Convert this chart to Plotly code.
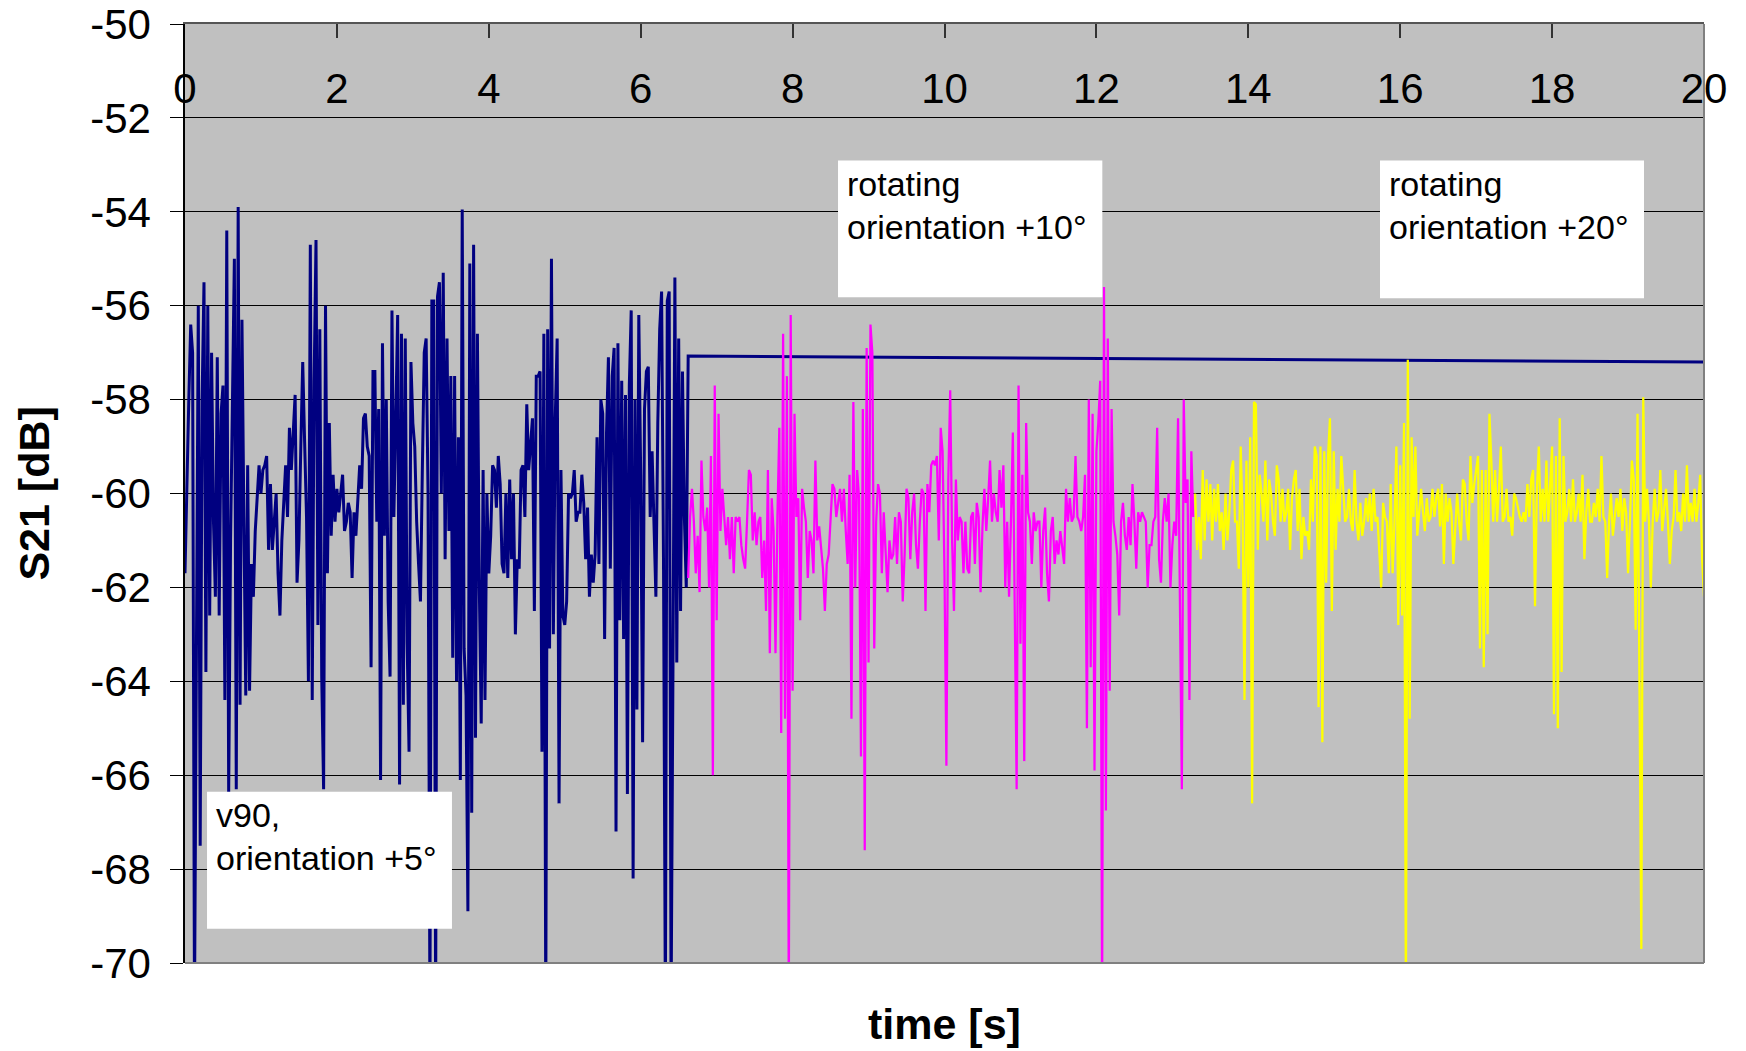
import plotly.graph_objects as go

# ---- measurement data: S21 [dB], sampled every DT seconds ----
DT = 0.025

# v90, orientation +5°  (t = 0 ... 6.6 s)
navy_t0 = 0.0
navy_vals = [
    -61.7, -59.4, -58.0, -56.4, -57.0, -71.0, -62.0, -56.0, -67.5, -58.0,
    -55.5, -63.8, -56.0, -62.6, -57.0, -60.6, -62.2, -57.1, -62.6, -58.3,
    -57.7, -64.4, -54.4, -66.4, -61.0, -57.9, -55.0, -66.3, -53.9, -64.5,
    -56.3, -60.5, -64.3, -59.4, -64.2, -61.5, -62.2, -60.8, -60.0, -59.4,
    -60.0, -59.5, -59.4, -59.2, -61.2, -59.8, -61.2, -60.5, -60.0, -61.7,
    -62.6, -61.0, -60.2, -59.4, -60.5, -58.6, -59.5, -58.7, -57.9, -61.9,
    -61.0, -59.0, -57.2, -58.9, -60.5, -64.0, -54.7, -64.4, -57.6, -54.6,
    -62.8, -56.5, -63.9, -66.3, -56.0, -61.7, -58.5, -60.9, -59.6, -60.6,
    -59.9, -60.4, -60.0, -59.6, -60.8, -60.6, -60.2, -60.4, -61.8, -60.4,
    -60.9, -60.0, -59.4, -59.9, -58.4, -58.3, -59.0, -59.2, -63.7, -57.4,
    -57.4, -60.6, -58.2, -66.1, -56.8, -60.9, -58.0, -62.3, -63.9, -56.1,
    -60.5, -58.4, -56.2, -66.2, -56.6, -64.5, -56.7, -63.2, -65.5, -57.2,
    -58.5, -59.0, -60.6, -61.5, -62.3, -59.5, -57.0, -56.7, -60.0, -71.0,
    -55.9, -55.9, -71.0, -55.8, -55.5, -60.0, -55.3, -61.4, -56.7, -60.8,
    -57.5, -63.5, -57.5, -64.0, -58.8, -66.1, -53.95, -63.3, -64.3, -68.9,
    -55.1, -66.8, -54.7, -65.2, -56.6, -62.0, -64.9, -59.5, -64.4, -60.0,
    -61.7, -60.9, -59.4, -59.5, -60.3, -59.2, -59.8, -61.5, -61.7, -60.0,
    -61.8, -59.7, -61.4, -60.0, -63.0, -61.4, -61.6, -59.5, -59.4, -60.5,
    -58.1, -59.5, -58.9, -58.4, -62.5, -57.5, -57.5, -57.4, -65.5, -56.6,
    -71.0, -56.5, -63.3, -55.0, -63.0, -58.4, -56.7, -66.6, -59.5, -62.6,
    -62.8, -62.3, -60.0, -60.1, -60.0, -59.5, -60.6, -60.4, -60.4, -59.6,
    -60.2, -61.4, -60.3, -62.2, -61.3, -61.9, -61.3, -58.8, -61.5, -58.0,
    -58.3, -63.1, -58.7, -57.1, -61.6, -57.5, -56.9, -67.2, -56.8, -62.7,
    -57.6, -63.1, -57.9, -66.4, -57.7, -56.1, -68.2, -58.0, -64.6, -56.2,
    -59.6, -65.3, -58.2, -57.4, -57.3, -60.5, -59.1, -60.6, -62.2, -58.5,
    -56.5, -55.7, -61.4, -71.0, -55.9, -55.7, -71.0, -63.7, -55.4, -63.6,
    -56.7, -62.5, -57.4, -60.5, -62.0,
]
# closing segment of the same series
navy_tail_t = [6.625, 20.0]
navy_tail_vals = [-57.07, -57.2]

# rotating, orientation +10°  (t = 6.625 ... 13.275 s)
magenta_t0 = 6.625
magenta_vals = [
    -61.8, -60.5, -59.9, -60.6, -61.7, -60.9, -62.1, -59.3, -60.5, -60.8,
    -60.3, -62.0, -59.2, -66.0, -57.7, -62.7, -58.3, -60.8, -59.9, -60.6,
    -61.1, -60.5, -61.4, -60.5, -61.7, -60.5, -60.6, -60.5, -61.1, -61.4,
    -61.6, -60.6, -59.5, -59.6, -61.0, -60.4, -61.1, -60.6, -60.5, -61.8,
    -61.0, -62.5, -59.5, -63.4, -60.1, -60.8, -63.4, -60.5, -58.6, -65.1,
    -56.6, -64.8, -57.5, -71.0, -56.2, -64.2, -58.3, -60.5, -60.1, -62.7,
    -59.9, -60.3, -60.6, -61.8, -60.8, -61.0, -61.7, -59.3, -61.0, -60.7,
    -61.2, -61.6, -62.5, -61.5, -61.3, -60.6, -59.8, -59.9, -60.5, -60.2,
    -59.9, -60.6, -59.9, -60.8, -61.5, -59.6, -64.8, -58.05, -62.0, -59.5,
    -60.1, -65.6, -58.2, -67.6, -56.9, -63.6, -56.4, -57.0, -63.3, -60.6,
    -59.8, -60.0, -61.7, -60.4, -61.3, -62.1, -61.0, -61.4, -61.3, -60.5,
    -61.5, -60.4, -60.6, -62.3, -61.3, -59.9, -60.1, -61.4, -60.4, -60.0,
    -61.1, -61.6, -60.6, -59.9, -60.0, -62.5, -59.8, -60.4, -59.4, -59.3,
    -59.4, -59.2, -61.0, -58.6, -59.1, -61.7, -65.8, -59.7, -57.8, -61.0,
    -62.5, -59.7, -61.0, -60.5, -60.6, -61.7, -60.6, -61.6, -61.7, -60.5,
    -60.4, -61.5, -60.2, -60.5, -62.1, -60.7, -59.9, -60.8, -60.1, -59.3,
    -60.6, -60.0, -60.4, -60.6, -59.5, -60.3, -59.4, -62.0, -60.6, -62.2,
    -60.6, -58.7, -62.5, -66.3, -57.7, -63.2, -59.6, -65.7, -58.5, -60.4,
    -60.6, -61.5, -60.4, -60.8, -60.6, -60.6, -62.0, -60.8, -60.3, -61.7,
    -62.3, -60.8, -60.5, -61.5, -61.0, -61.3, -60.8, -61.1, -61.5, -59.9,
    -60.6, -60.1, -60.6, -60.5, -59.2, -60.5, -60.6, -60.8, -60.5, -59.6,
    -65.0, -58.0, -63.7, -58.3, -65.9, -59.1, -58.5, -57.6, -71.0, -55.6,
    -66.75, -56.7, -64.2, -58.2, -60.6, -60.9, -61.3, -62.6, -60.6, -60.2,
    -60.9, -61.2, -60.5, -61.1, -59.8, -60.6, -61.6, -60.4, -60.6, -60.4,
    -60.5, -60.6, -62.0, -61.1, -61.1, -60.6, -60.5, -58.6, -61.4, -61.9,
    -60.6, -60.1, -60.6, -60.0, -62.0, -61.1, -60.6, -60.9, -58.4, -62.7,
    -66.3, -58.0, -60.2, -59.7, -64.4, -59.1, -60.5,
]

# rotating, orientation +20°  (t = 13.3 ... 20 s)
yellow_t0 = 13.3
yellow_vals = [
    -60.0, -61.2, -60.5, -61.4, -59.5, -61.0, -59.7, -60.6, -59.8, -61.0,
    -59.9, -60.6, -59.8, -60.8, -60.4, -61.2, -60.0, -61.0, -60.4, -59.5,
    -59.3, -60.6, -60.6, -61.6, -59.0, -60.5, -64.4, -59.3, -62.0, -58.8,
    -66.6, -58.05, -58.1, -61.2, -59.6, -60.0, -60.6, -59.3, -61.0, -59.7,
    -60.0, -60.6, -60.9, -59.4, -59.7, -60.6, -59.9, -60.6, -60.4, -59.9,
    -61.2, -60.1, -59.7, -59.5, -60.8, -59.9, -61.4, -60.5, -60.9, -60.8,
    -61.2, -59.7, -60.6, -59.0, -59.2, -64.55, -59.0, -65.3, -59.1, -61.9,
    -59.2, -58.4, -62.5, -59.1, -61.2, -59.9, -60.6, -59.2, -59.9, -60.6,
    -60.5, -59.9, -60.6, -60.8, -59.5, -60.6, -61.0, -60.2, -60.9, -60.6,
    -60.1, -60.6, -60.0, -60.8, -59.9, -60.6, -60.5, -61.2, -62.0, -60.2,
    -60.5, -60.6, -61.7, -59.8, -61.7, -60.6, -59.0, -62.8, -59.4, -62.6,
    -58.5, -71.0, -57.15, -64.8, -58.8, -60.5, -59.0, -60.9, -60.4, -59.9,
    -60.4, -60.8, -60.1, -60.6, -60.5, -59.9, -60.5, -60.1, -59.9, -60.7,
    -59.8, -61.5, -60.0, -60.6, -60.1, -60.4, -61.5, -60.6, -60.0, -60.6,
    -61.0, -59.7, -59.8, -60.6, -61.0, -59.2, -60.2, -59.8, -59.5, -59.2,
    -63.3, -59.5, -63.7, -59.5, -63.0, -58.3, -59.3, -60.6, -59.5, -60.6,
    -59.9, -59.0, -60.6, -60.5, -59.9, -60.6, -60.5, -60.9, -60.0, -60.1,
    -60.3, -60.5, -60.6, -60.4, -60.6, -59.8, -60.5, -59.7, -59.5, -62.4,
    -59.9, -59.0, -60.6, -59.9, -60.6, -59.3, -60.6, -59.9, -59.0, -64.7,
    -59.2, -65.0, -58.4, -63.8, -59.2, -60.6, -60.4, -59.9, -60.6, -59.7,
    -60.6, -60.4, -60.0, -60.6, -59.6, -61.4, -60.4, -59.9, -60.6, -60.6,
    -60.2, -60.5, -59.9, -60.6, -59.2, -60.5, -60.6, -61.8, -60.6, -60.0,
    -60.9, -60.5, -60.1, -60.5, -59.9, -60.8, -60.1, -60.4, -61.7, -60.6,
    -59.3, -59.7, -62.9, -58.3, -63.4, -69.7, -57.95, -60.6, -59.9, -60.6,
    -62.0, -60.6, -59.9, -60.6, -60.4, -59.5, -60.8, -60.4, -59.9, -60.6,
    -61.5, -60.8, -60.5, -59.5, -60.6, -60.4, -60.8, -60.0, -60.6, -59.4,
    -60.6, -60.2, -60.6, -59.9, -60.6, -60.2, -59.6, -61.4, -62.2,
]

x_tick_vals = [0, 2, 4, 6, 8, 10, 12, 14, 16, 18, 20]
x_tick_text = ["0", "2", "4", "6", "8", "10", "12", "14", "16", "18", "20"]
y_tick_vals = [-70, -68, -66, -64, -62, -60, -58, -56, -54, -52, -50]
y_tick_text = ["-70", "-68", "-66", "-64", "-62", "-60", "-58", "-56", "-54", "-52", "-50"]

box_lines = [
    ["v90,", "orientation +5°"],
    ["rotating", "orientation +10°"],
    ["rotating", "orientation +20°"],
]


def times(t0, n):
    return [round(t0 + i * DT, 4) for i in range(n)]


FONT = "Liberation Sans, Arial, sans-serif"

fig = go.Figure()
fig.add_trace(go.Scatter(
    x=times(navy_t0, len(navy_vals)) + navy_tail_t,
    y=navy_vals + navy_tail_vals,
    mode="lines", line=dict(color="#000080", width=3),
    name="v90, orientation +5°", showlegend=False,
))
fig.add_trace(go.Scatter(
    x=times(magenta_t0, len(magenta_vals)), y=magenta_vals,
    mode="lines", line=dict(color="#FF00FF", width=2.25),
    name="rotating, orientation +10°", showlegend=False,
))
fig.add_trace(go.Scatter(
    x=times(yellow_t0, len(yellow_vals)), y=yellow_vals,
    mode="lines", line=dict(color="#FFFF00", width=2.25),
    name="rotating, orientation +20°", showlegend=False,
))

# label boxes: left/right in seconds, top/bottom in dB
box_geom = [
    (0.29, 3.515, -66.35, -69.27),
    (8.598, 12.078, -52.91, -55.82),
    (15.734, 19.21, -52.91, -55.84),
]
LINE_SHIFTS = [-3, -46]   # px offsets of the two text lines below the box top
shapes = []
annotations = []
for lines, (x0, x1, ytop, ybot) in zip(box_lines, box_geom):
    shapes.append(dict(
        type="rect", xref="x", yref="y", x0=x0, x1=x1, y0=ybot, y1=ytop,
        fillcolor="white", line=dict(width=0), layer="above",
    ))
    for line_text, dy in zip(lines, LINE_SHIFTS):
        annotations.append(dict(
            x=x0, y=ytop, xref="x", yref="y", xanchor="left", yanchor="top",
            xshift=8, yshift=dy, text=line_text, showarrow=False, align="left",
            borderpad=0, font=dict(family=FONT, size=34, color="black"),
        ))

# plot-area frame on the right and bottom
shapes += [
    dict(type="line", xref="paper", yref="paper", x0=0, x1=1, y0=0, y1=0,
         line=dict(color="#808080", width=2), layer="above"),
    dict(type="line", xref="paper", yref="paper", x0=1, x1=1, y0=0, y1=1,
         line=dict(color="#808080", width=2), layer="above"),
]

# axis titles
annotations.append(dict(
    x=0.5, y=-0.065, xref="paper", yref="paper", xanchor="center", yanchor="middle",
    text="<b>time [s]</b>", showarrow=False,
    font=dict(family=FONT, size=43, color="black"),
))
annotations.append(dict(
    x=-0.1, y=0.5, xref="paper", yref="paper", xanchor="center", yanchor="middle",
    text="<b>S21 [dB]</b>", showarrow=False, textangle=-90,
    font=dict(family=FONT, size=43, color="black"),
))

fig.update_layout(
    template="none",
    width=1746, height=1051,
    margin=dict(l=185, r=42, t=24, b=88, pad=0),
    paper_bgcolor="white",
    plot_bgcolor="#C0C0C0",
    font=dict(family=FONT, size=42, color="black"),
    showlegend=False,
    annotations=annotations,
    shapes=shapes,
)

fig.update_xaxes(
    range=[0, 20], side="top",
    tickmode="array", tickvals=x_tick_vals, ticktext=x_tick_text,
    ticks="inside", ticklen=14, tickwidth=1.5, tickcolor="#333333",
    ticklabelposition="outside", ticklabelstandoff=-98,
    tickfont=dict(family=FONT, size=42, color="black"),
    showline=True, linecolor="#555555", linewidth=2, mirror=False,
    showgrid=False, zeroline=False, automargin=False,
)
fig.update_yaxes(
    range=[-70, -50],
    tickmode="array", tickvals=y_tick_vals, ticktext=y_tick_text,
    ticks="outside", ticklen=13, tickwidth=1.2, tickcolor="black",
    ticklabelstandoff=11,
    tickfont=dict(family=FONT, size=42, color="black"),
    showline=True, linecolor="black", linewidth=1.5,
    showgrid=True, gridcolor="black", gridwidth=1,
    zeroline=False, automargin=False,
)

fig.write_html("out.html")
